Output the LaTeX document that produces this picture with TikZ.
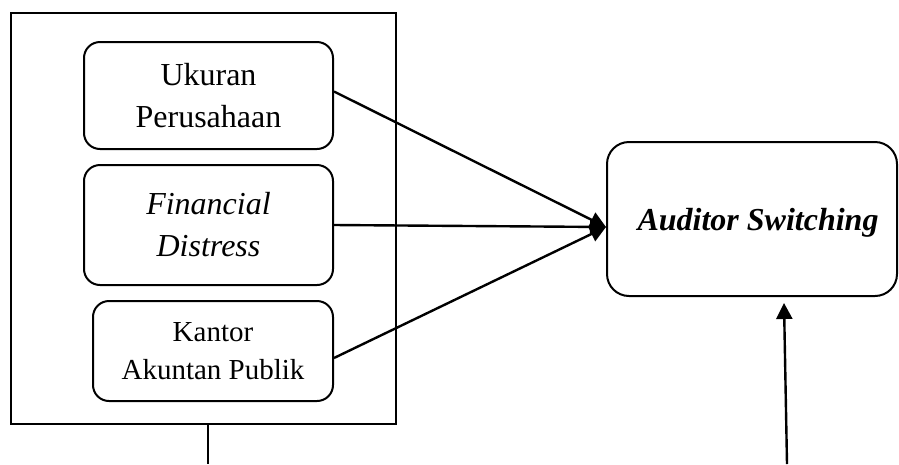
\documentclass[tikz,border=0pt]{standalone}
\usepackage{fontspec}
\setmainfont{Liberation Serif}
\usetikzlibrary{arrows.meta}
\begin{document}
\begin{tikzpicture}[x=1pt,y=-1pt,
  box/.style={draw, line width=2pt, rounded corners=16pt, align=center, inner sep=0pt, font=\fontsize{32}{42}\selectfont},
  conn/.style={line width=2.4pt, -{Triangle[length=16pt,width=16pt]}},
  plain/.style={line width=2.4pt}]
\useasboundingbox (0,0) rectangle (899,464);
\node[draw, line width=2.2pt, minimum width=385pt, minimum height=411pt, inner sep=0pt] (outer) at (203.5,218.5) {};
\node[box, minimum width=249pt, minimum height=107pt] (b1) at (208.5,95.5) {Ukuran\\Perusahaan};
\node[box, minimum width=249pt, minimum height=120pt] (b2) at (208.5,225) {\itshape Financial\\\itshape Distress};
\node[box, minimum width=240pt, minimum height=100pt, font=\fontsize{29}{38}\selectfont] (b3) at (213,351) {Kantor\\Akuntan Publik};
\node[box, rounded corners=22pt, minimum width=290pt, minimum height=154pt, text depth=0pt] (aud) at (752,219) {\hspace*{12pt}\bfseries\itshape Auditor Switching};
\coordinate (t) at ([yshift=-8pt]aud.west);
\coordinate (vb) at (787,464);
\coordinate (ob) at (208,464);
\draw[conn] ([yshift=4pt]b1.east) -- (t);
\draw[conn] (b2.east) -- (t);
\draw[conn] ([yshift=-7pt]b3.east) -- (t);
\draw[plain] ([xshift=4.5pt]outer.south) -- (ob);
\draw[conn] (vb) -- ([xshift=32pt,yshift=-6pt]aud.south);
\end{tikzpicture}
\end{document}
